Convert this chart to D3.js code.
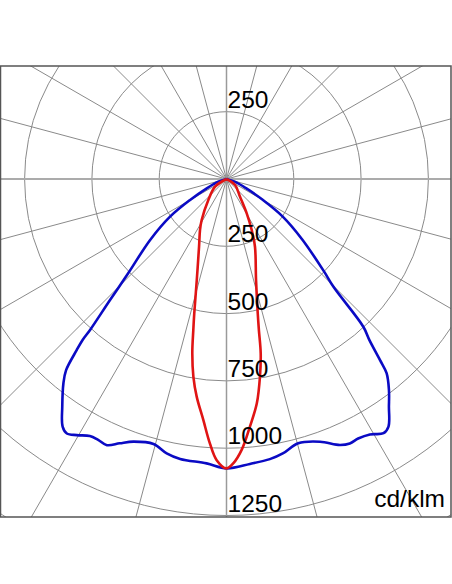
<!DOCTYPE html>
<html><head><meta charset="utf-8">
<script src="https://cdn.jsdelivr.net/npm/d3@7"></script>
<style>html,body{margin:0;padding:0;background:#fff;}svg{display:block;}</style>
</head><body>
<script>
// Ring values (cd/klm) and labels
const ringValues = [250, 500, 750, 1000, 1250, 1500, 1750];
const lowerLabels = ["250", "500", "750", "1000", "1250"];
const upperLabels = ["250"];
const unitLabel = "cd/klm";
const spokeAngles = d3.range(0, 360, 15);

// C0-C180 plane (blue): gamma angle (deg, 0 = downward), intensity
const gammaBlue = [-90, -72, -64.8, -60.1, -56.3, -51.4, -46.2, -43.9, -42.1, -41.8, -41.2, -40.0, -38.6, -35.8, -33.5, -32.1, -30.3, -28.0, -26.2, -24.2, -22.0, -19.5, -15.4, -12.3, -9.4, -4.0, 0, 4.7, 8.8, 11.7, 15.2, 19.6, 23.1, 25.0, 26.9, 29.3, 31.7, 33.2, 35.5, 37.6, 39.5, 40.3, 41.6, 42.8, 44.8, 46.5, 51.4, 56.3, 60.1, 64.8, 72, 90];
const cdBlue    = [0, 32, 81, 156, 252, 363, 506, 624, 756, 802, 845, 927, 971, 1043, 1103, 1116, 1102, 1081, 1080, 1084, 1059, 1035, 1021, 1043, 1054, 1059, 1075, 1062, 1053, 1040, 1017, 1036, 1074, 1084, 1081, 1088, 1110, 1099, 1039, 989, 935, 881, 799, 748, 563, 500, 360, 250, 155, 80, 32, 0];

// C90-C270 plane (red)
const gammaRed = [-90, -56.2, -40.9, -31.2, -27.5, -22.1, -16.4, -13.5, -12.4, -11.1, -9.5, -7.8, -5.5, -3.6, -2.0, 0, 1.4, 3.2, 5.4, 7.7, 9.6, 11.1, 12.1, 13.1, 16.3, 22.8, 26.3, 30.5, 37.3, 54.8, 90];
const cdRed    = [0, 51, 103, 178, 213, 271, 391, 513, 574, 660, 745, 816, 899, 984, 1045, 1075, 1056, 1008, 924, 841, 745, 660, 574, 512, 391, 273, 211, 148, 83, 39, 0];

const W = 452, H = 584;
const cx = 226.5, cy = 179;
const frame = {x: 1, y: 66, w: 450, h: 451};

const r = d3.scaleLinear().domain([0, 250]).range([0, 67.3]);

const svg = d3.select("body").append("svg").attr("width", W).attr("height", H);
svg.append("defs").append("clipPath").attr("id", "clip")
  .append("rect").attr("x", frame.x).attr("y", frame.y).attr("width", frame.w).attr("height", frame.h);

const g = svg.append("g").attr("clip-path", "url(#clip)");
const c = g.append("g").attr("transform", `translate(${cx},${cy})`);

// spokes
const R = 600;
c.selectAll("line.spoke").data(spokeAngles.filter(a => a % 90 !== 0)).join("line")
  .attr("x1", 0).attr("y1", 0)
  .attr("x2", a => R * Math.sin(a * Math.PI / 180))
  .attr("y2", a => R * Math.cos(a * Math.PI / 180))
  .attr("stroke", "#8a8a8a").attr("stroke-width", 1);

// rings
c.selectAll("circle.ring").data(ringValues).join("circle")
  .attr("r", d => r(d)).attr("fill", "none")
  .attr("stroke", "#8a8a8a").attr("stroke-width", 1);

// main axes
c.append("line").attr("x1", -R).attr("x2", R).attr("y1", 0).attr("y2", 0)
  .attr("stroke", "#ababab").attr("stroke-width", 2);
c.append("line").attr("x1", 0).attr("x2", 0).attr("y1", -R).attr("y2", R)
  .attr("stroke", "#9a9a9a").attr("stroke-width", 1.5);

// curves
const radial = d3.lineRadial()
  .angle(d => Math.PI - d[0] * Math.PI / 180)
  .radius(d => r(d[1]))
  .curve(d3.curveCatmullRom.alpha(0.5));

c.append("path").datum(d3.zip(gammaBlue, cdBlue)).attr("d", radial)
  .attr("fill", "none").attr("stroke", "#0a0ac4").attr("stroke-width", 2.6)
  .attr("stroke-linejoin", "round");
c.append("path").datum(d3.zip(gammaRed, cdRed)).attr("d", radial)
  .attr("fill", "none").attr("stroke", "#e01414").attr("stroke-width", 2.6)
  .attr("stroke-linejoin", "round");

// labels
const font = "Liberation Sans, Arial, sans-serif";
c.selectAll("text.low").data(lowerLabels).join("text")
  .attr("x", 1).attr("y", d => r(+d) - 4)
  .attr("font-family", font).attr("font-size", 24.5).attr("fill", "#000")
  .text(d => d);
c.selectAll("text.up").data(upperLabels).join("text")
  .attr("x", 1).attr("y", d => -r(+d) - 4)
  .attr("font-family", font).attr("font-size", 24.5).attr("fill", "#000")
  .text(d => d);
svg.append("text").attr("x", 445).attr("y", 507).attr("text-anchor", "end")
  .attr("font-family", font).attr("font-size", 24.5).attr("fill", "#000")
  .text(unitLabel);

// frame
svg.append("rect").attr("x", frame.x - 0.5).attr("y", frame.y).attr("width", frame.w + 0.5).attr("height", frame.h)
  .attr("fill", "none").attr("stroke", "#555").attr("stroke-width", 1.5);
</script>
</body></html>
